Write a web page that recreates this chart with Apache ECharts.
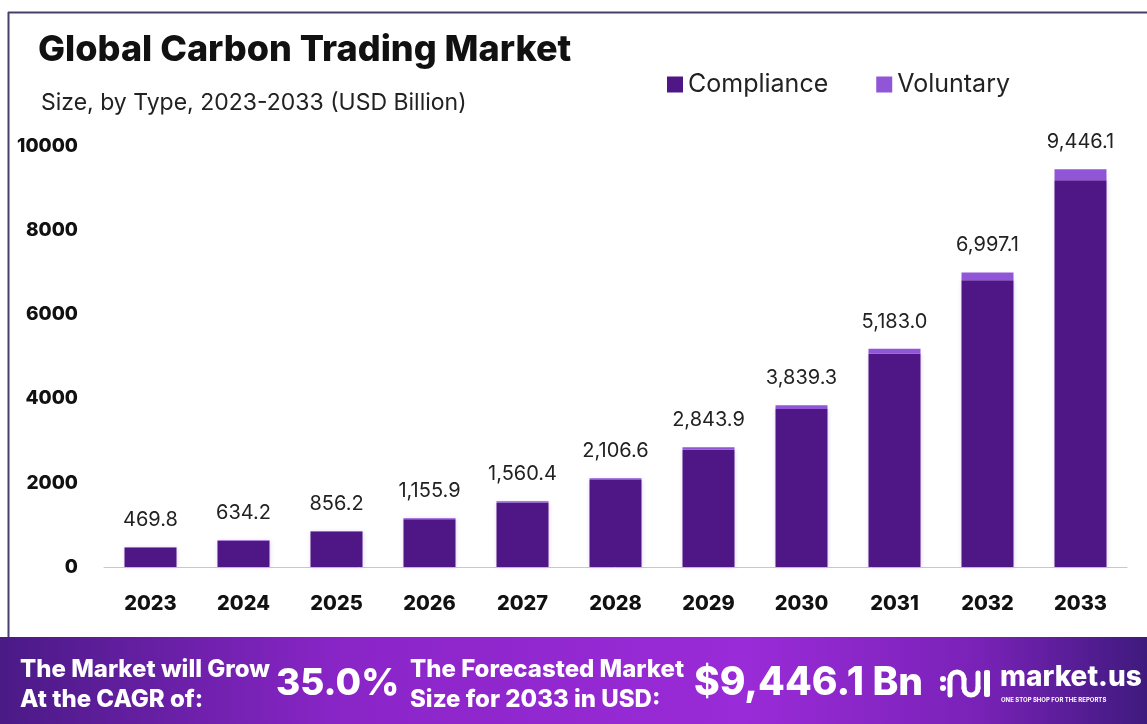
<!DOCTYPE html>
<html>
<head>
<meta charset="utf-8">
<script src="https://cdn.jsdelivr.net/npm/echarts@6/dist/echarts.min.js"></script>
<style>
html,body{margin:0;padding:0;background:#fff;}
#chart{width:1147px;height:724px;}
</style>
</head>
<body>
<div id="chart"></div>
<script>
const years = ['2023','2024','2025','2026','2027','2028','2029','2030','2031','2032','2033'];
const totals = [469.8, 634.2, 856.2, 1155.9, 1560.4, 2106.6, 2843.9, 3839.3, 5183.0, 6997.1, 9446.1];
const compliance = [462, 624, 842, 1136, 1532, 2066, 2785, 3754, 5063, 6812, 9186];
const voluntary = [7.8, 10.2, 14.2, 19.9, 28.4, 40.6, 58.9, 85.3, 120.0, 185.1, 260.1];
const yTicks = [0, 2000, 4000, 6000, 8000, 10000];
const cagrText = '35.0%';
const forecastText = '$9,446.1 Bn';

const FONT = 'Inter, "Open Sans", sans-serif';
const chart = echarts.init(document.getElementById('chart'));
const fmt = v => v.toLocaleString('en-US', {minimumFractionDigits:1, maximumFractionDigits:1});
const W = {stroke: '#fff', lineWidth: 5, fill: null, lineCap: 'round'};

chart.setOption({
  backgroundColor: '#ffffff',
  animation: false,
  title: [{
    text: 'Global Carbon Trading Market',
    left: 33, top: 27,
    textStyle: {fontFamily: FONT, fontWeight: 800, fontSize: 36, color: '#111'}
  }, {
    text: 'Size, by Type, 2023-2033 (USD Billion)',
    left: 36, top: 87,
    textStyle: {fontFamily: FONT, fontWeight: 400, fontSize: 23, color: '#222'}
  }],
  legend: {
    data: ['Compliance', 'Voluntary'],
    left: 662, top: 67,
    itemWidth: 16, itemHeight: 16, itemGap: 48,
    icon: 'rect',
    textStyle: {fontFamily: FONT, fontSize: 25, color: '#222', padding: [0,0,0,0]}
  },
  grid: {left: 104, right: 20, top: 146, bottom: 157},
  xAxis: {
    type: 'category',
    data: years,
    axisLine: {lineStyle: {color: '#c8c8c8', width: 1}},
    axisTick: {show: false},
    axisLabel: {fontFamily: FONT, fontWeight: 800, fontSize: 20, color: '#111', margin: 27}
  },
  yAxis: {
    type: 'value',
    min: 0, max: 10000, interval: 2000,
    splitLine: {show: false},
    axisLine: {show: false},
    axisTick: {show: false},
    axisLabel: {fontFamily: FONT, fontWeight: 800, fontSize: 19, color: '#111', margin: 26,
      formatter: v => yTicks.includes(v) ? String(v) : ''}
  },
  series: [{
    name: 'Compliance',
    type: 'bar',
    stack: 'total',
    barWidth: 52,
    data: compliance,
    itemStyle: {color: '#4f1686', shadowColor: 'rgba(120,60,200,0.25)', shadowBlur: 4}
  }, {
    name: 'Voluntary',
    type: 'bar',
    stack: 'total',
    barWidth: 52,
    data: voluntary,
    itemStyle: {color: '#9155d8'},
    label: {
      show: true, position: 'top', distance: 17,
      fontFamily: FONT, fontSize: 20, color: '#222',
      formatter: p => fmt(totals[p.dataIndex])
    }
  }],
  graphic: [
    {type: 'line', shape: {x1: 8.5, y1: 12, x2: 8.5, y2: 637}, style: {stroke: '#4a3f6b', lineWidth: 2}, z: 10},
    {type: 'line', shape: {x1: 8, y1: 12.5, x2: 1147, y2: 12.5}, style: {stroke: '#4a3f6b', lineWidth: 2}, z: 10},
    {type: 'rect', shape: {x: 0, y: 637, width: 1147, height: 87},
      style: {fill: new echarts.graphic.LinearGradient(0, 0, 1, 0, [
        {offset: 0, color: '#4a1a86'},
        {offset: 0.3, color: '#8a25c8'},
        {offset: 0.65, color: '#9a2bd8'},
        {offset: 0.85, color: '#7a22b8'},
        {offset: 1, color: '#3f1a7e'}
      ])}, z: 10},
    {type: 'text', left: 20, top: 655, z: 11,
      style: {text: 'The Market will Grow\nAt the CAGR of:', fill: '#fff', font: '800 24px ' + FONT, lineHeight: 30}},
    {type: 'text', left: 276, top: 665, z: 11,
      style: {text: cagrText, fill: '#fff', font: '800 37px ' + FONT, shadowColor: 'rgba(0,0,0,0.35)', shadowBlur: 6, shadowOffsetY: 2}},
    {type: 'text', left: 410, top: 655, z: 11,
      style: {text: 'The Forecasted Market\nSize for 2033 in USD:', fill: '#fff', font: '800 24px ' + FONT, lineHeight: 30}},
    {type: 'text', left: 694, top: 664, z: 11,
      style: {text: forecastText, fill: '#fff', font: '800 39px ' + FONT, shadowColor: 'rgba(0,0,0,0.35)', shadowBlur: 6, shadowOffsetY: 2}},
    {type: 'group', x: 940, y: 669, z: 12, children: [
      {type: 'circle', z: 12, shape: {cx: 3, cy: 10, r: 3}, style: {fill: '#fff'}},
      {type: 'circle', z: 12, shape: {cx: 3, cy: 19, r: 3}, style: {fill: '#fff'}},
      {type: 'arc', z: 12, shape: {cx: 17, cy: 10, r: 7, startAngle: Math.PI, endAngle: Math.PI * 2, clockwise: true}, style: W},
      {type: 'line', z: 12, shape: {x1: 10, y1: 10, x2: 10, y2: 26}, style: W},
      {type: 'line', z: 12, shape: {x1: 24, y1: 10, x2: 24, y2: 19}, style: W},
      {type: 'arc', z: 12, shape: {cx: 31, cy: 19, r: 7, startAngle: 0, endAngle: Math.PI, clockwise: true}, style: W},
      {type: 'line', z: 12, shape: {x1: 38, y1: 19, x2: 38, y2: 4}, style: W},
      {type: 'rect', z: 12, shape: {x: 44, y: 1, width: 6, height: 27, r: 2}, style: {fill: '#fff'}}
    ]},
    {type: 'text', left: 1000, top: 664, z: 11,
      style: {text: 'market.us', fill: '#fff', font: '800 28px ' + FONT}},
    {type: 'text', left: 1001, top: 697, z: 11,
      style: {text: 'ONE STOP SHOP FOR THE REPORTS', fill: '#fff', font: '700 6px ' + FONT}}
  ]
});
</script>
</body>
</html>
